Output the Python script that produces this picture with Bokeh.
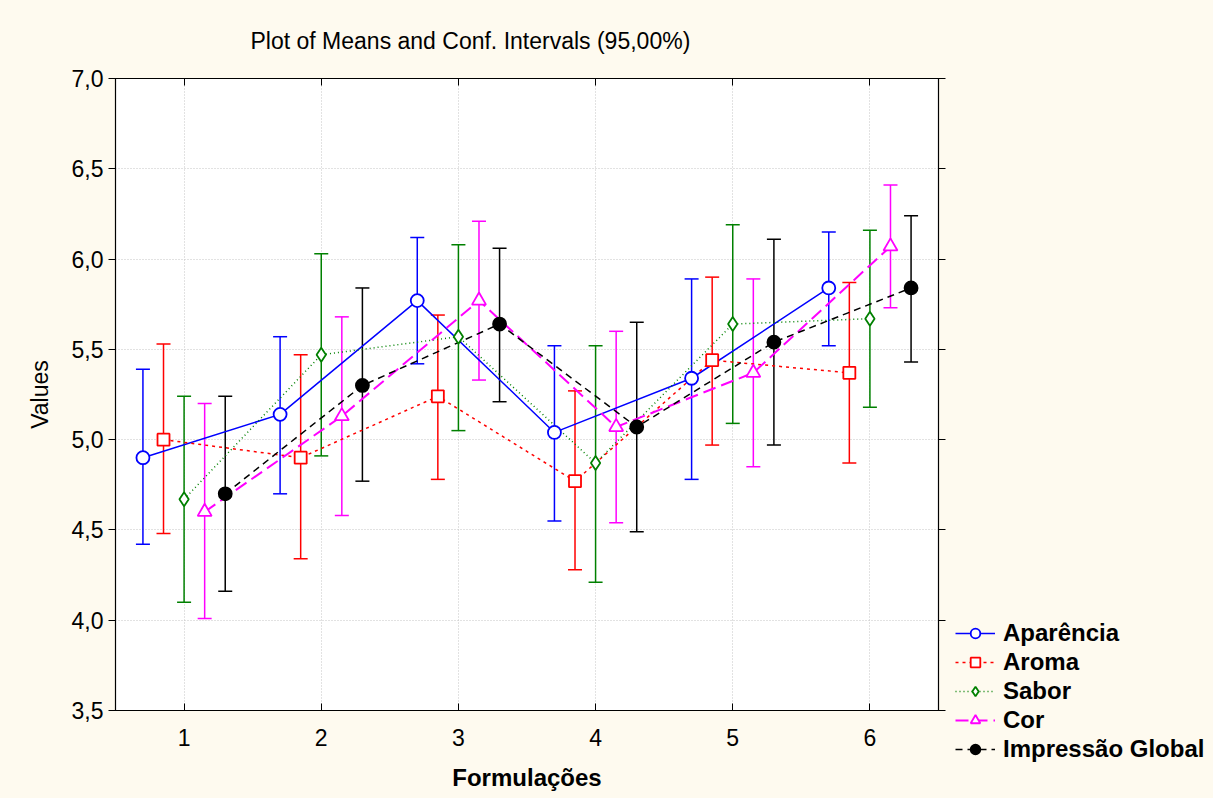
from bokeh.plotting import figure
from bokeh.layouts import row, column
from bokeh.models import ColumnDataSource, LinearAxis, Legend, LegendItem, FixedTicker
from bokeh.transform import dodge
from bokeh.embed import file_html
from bokeh.resources import INLINE

# ---------------- data ----------------
formulations = [1, 2, 3, 4, 5, 6]
x_tick_labels = ["1", "2", "3", "4", "5", "6"]
y_ticks = [3.5, 4.0, 4.5, 5.0, 5.5, 6.0, 6.5, 7.0]
y_tick_labels = ["3,5", "4,0", "4,5", "5,0", "5,5", "6,0", "6,5", "7,0"]

series_names = ["Aparência", "Aroma", "Sabor", "Cor", "Impressão Global"]

aparencia_mean = [4.90, 5.14, 5.77, 5.04, 5.34, 5.84]
aparencia_low = [4.42, 4.70, 5.42, 4.55, 4.78, 5.52]
aparencia_high = [5.39, 5.57, 6.12, 5.52, 5.89, 6.15]

aroma_mean = [5.00, 4.90, 5.24, 4.77, 5.44, 5.37]
aroma_low = [4.48, 4.34, 4.78, 4.28, 4.97, 4.87]
aroma_high = [5.53, 5.47, 5.69, 5.27, 5.90, 5.87]

sabor_mean = [4.67, 5.47, 5.57, 4.87, 5.64, 5.67]
sabor_low = [4.10, 4.91, 5.05, 4.21, 5.09, 5.18]
sabor_high = [5.24, 6.03, 6.08, 5.52, 6.19, 6.16]

cor_mean = [4.60, 5.13, 5.77, 5.07, 5.37, 6.07]
cor_low = [4.01, 4.58, 5.33, 4.54, 4.85, 5.73]
cor_high = [5.20, 5.68, 6.21, 5.60, 5.89, 6.41]

impressao_mean = [4.70, 5.30, 5.64, 5.07, 5.54, 5.84]
impressao_low = [4.16, 4.77, 5.21, 4.49, 4.97, 5.43]
impressao_high = [5.24, 5.84, 6.06, 5.65, 6.11, 6.24]

means = [aparencia_mean, aroma_mean, sabor_mean, cor_mean, impressao_mean]
lows = [aparencia_low, aroma_low, sabor_low, cor_low, impressao_low]
highs = [aparencia_high, aroma_high, sabor_high, cor_high, impressao_high]

# ---------------- styles ----------------
offsets = [-0.3, -0.15, 0.0, 0.15, 0.3]
colors = ["#0000ff", "#ff0000", "#008000", "#ff00ff", "#000000"]
dashes = ["solid", "3 4", "1 3", "13 6", "7 5"]
line_widths = [1.5, 1.5, 1.5, 2.0, 1.5]
markers = ["circle", "square", "diamond", "triangle", "circle"]
marker_sizes = [13, 12, 14, 14, 13]
fills = ["white", "white", "white", "white", "black"]

FONT = "Liberation Sans"
BG = "#fefaef"

MAIN_W = 950
LEG_W = 1213 - MAIN_W
H = 798

p = figure(width=MAIN_W, height=H, x_range=(0.5, 6.5), y_range=(3.5, 7.0),
           output_backend="svg", toolbar_location=None,
           title="Plot of Means and Conf. Intervals (95,00%)",
           min_border_left=115, min_border_right=MAIN_W - 938,
           min_border_top=77, min_border_bottom=88)

p.border_fill_color = BG
p.background_fill_color = "white"
p.outline_line_color = "black"
p.outline_line_width = 1.2

p.title.text_font = FONT
p.title.text_font_size = "23px"
p.title.text_font_style = "normal"
p.title.text_color = "black"
p.title.align = "left"
p.title.offset = 135
p.title.standoff = 50

# axes
xa = p.xaxis[0]
xa.ticker = FixedTicker(ticks=formulations)
xa.major_label_overrides = dict(zip(formulations, x_tick_labels))
xa.major_tick_in = 7
xa.major_tick_out = 0
xa.minor_tick_line_color = None
xa.major_label_text_font = FONT
xa.major_label_text_font_size = "23px"
xa.major_label_text_color = "black"
xa.major_label_standoff = 18
xa.axis_label = "Formulações"
xa.axis_label_text_font = FONT
xa.axis_label_text_font_size = "24px"
xa.axis_label_text_font_style = "bold"
xa.axis_label_text_color = "black"
xa.axis_label_standoff = 15

ya = p.yaxis[0]
ya.ticker = FixedTicker(ticks=y_ticks)
ya.major_label_overrides = dict(zip(y_ticks, y_tick_labels))
ya.major_tick_in = 0
ya.major_tick_out = 7
ya.minor_tick_line_color = None
ya.major_label_text_font = FONT
ya.major_label_text_font_size = "23px"
ya.major_label_text_color = "black"
ya.major_label_standoff = 5
ya.axis_label = "Values"
ya.axis_label_text_font = FONT
ya.axis_label_text_font_size = "23px"
ya.axis_label_text_font_style = "normal"
ya.axis_label_text_color = "black"
ya.axis_label_standoff = 16

top_axis = LinearAxis(ticker=FixedTicker(ticks=formulations), major_tick_in=7, major_tick_out=0,
                      minor_tick_line_color=None, major_label_standoff=0,
                      major_label_overrides={t: "" for t in formulations})
right_axis = LinearAxis(ticker=FixedTicker(ticks=y_ticks), major_tick_in=0, major_tick_out=7,
                        minor_tick_line_color=None, major_label_standoff=0,
                        major_label_overrides={t: "" for t in y_ticks})
p.add_layout(top_axis, "above")
p.add_layout(right_axis, "right")

p.xgrid.ticker = FixedTicker(ticks=formulations)
p.ygrid.ticker = FixedTicker(ticks=y_ticks)
for g in (p.xgrid[0], p.ygrid[0]):
    g.grid_line_color = "#c4c4c4"
    g.grid_line_dash = "1 2"
    g.grid_line_width = 1

sources = [ColumnDataSource(dict(x=formulations, mean=means[i], low=lows[i], high=highs[i]))
           for i in range(len(series_names))]

# error bars
for i, name in enumerate(series_names):
    xs = dodge("x", offsets[i], range=p.x_range)
    p.segment(x0=xs, y0="low", x1=xs, y1="high", source=sources[i],
              line_color=colors[i], line_width=1.5)
    p.scatter(x=xs, y="low", source=sources[i], marker="dash", size=14,
              line_color=colors[i], line_width=1.5)
    p.scatter(x=xs, y="high", source=sources[i], marker="dash", size=14,
              line_color=colors[i], line_width=1.5)

# mean lines
for i, name in enumerate(series_names):
    xs = dodge("x", offsets[i], range=p.x_range)
    p.line(x=xs, y="mean", source=sources[i], line_color=colors[i],
           line_width=line_widths[i], line_dash=dashes[i])

# mean markers
for i, name in enumerate(series_names):
    xs = dodge("x", offsets[i], range=p.x_range)
    p.scatter(x=xs, y="mean", source=sources[i], marker=markers[i], size=marker_sizes[i],
              line_color=colors[i], fill_color=fills[i], line_width=1.8)

# ---------------- legend panel: same series, ranges chosen so only the legend shows ----------------
lg = figure(width=LEG_W, height=H, x_range=(100, 101), y_range=(100, 101),
            output_backend="svg", toolbar_location=None,
            x_axis_type=None, y_axis_type=None,
            min_border_left=0, min_border_right=0, min_border_top=0, min_border_bottom=0)
lg.border_fill_color = BG
lg.background_fill_color = BG
lg.outline_line_color = None
lg.xgrid.visible = False
lg.ygrid.visible = False

items = []
for i, name in enumerate(series_names):
    lr = lg.line(x="x", y="mean", source=sources[i], line_color=colors[i],
                 line_width=line_widths[i], line_dash=dashes[i])
    mr = lg.scatter(x="x", y="mean", source=sources[i], marker=markers[i], size=marker_sizes[i],
                    line_color=colors[i], fill_color=fills[i], line_width=1.8)
    items.append(LegendItem(label=name, renderers=[lr, mr]))

legend = Legend(items=items, location=(5, 35), orientation="vertical",
                glyph_width=40, glyph_height=24, label_height=24, spacing=1,
                label_standoff=8, padding=0, margin=0,
                border_line_color=None, background_fill_alpha=0,
                label_text_font=FONT, label_text_font_size="24px",
                label_text_font_style="bold", label_text_color="black")
lg.add_layout(legend, "center")

layout = row(p, column(lg), spacing=0)
layout.styles = {"background-color": BG}

open("out.html", "w").write(file_html(layout, INLINE))
